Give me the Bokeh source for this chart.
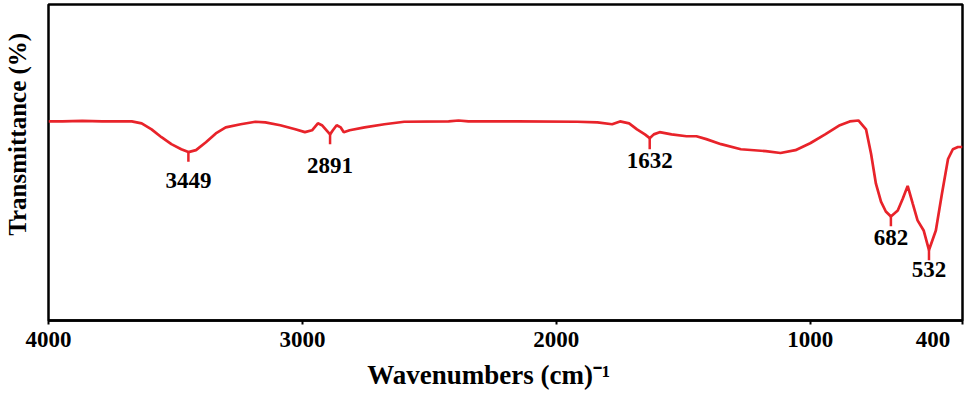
from bokeh.plotting import figure
from bokeh.models import Range1d, FixedTicker
from bokeh.embed import file_html
from bokeh.resources import INLINE
from bokeh.core.properties import value

# ---- data ----
wavenumber = [4000, 3945, 3867, 3789, 3672, 3633, 3594, 3555, 3516, 3477, 3449,
              3419, 3380, 3341, 3302, 3243, 3185, 3146, 3087, 3028, 2990, 2962,
              2939, 2923, 2891, 2880, 2865, 2849, 2837, 2814, 2755, 2677, 2599,
              2424, 2385, 2346, 2151, 1917, 1838, 1780, 1749, 1713, 1682, 1651,
              1632, 1616, 1593, 1546, 1487, 1448, 1409, 1351, 1273, 1175, 1117,
              1058, 1000, 941, 883, 844, 810, 780, 760, 741, 721, 702, 682, 655,
              635, 616, 596, 577, 553, 532, 505, 481, 457, 438, 418, 400]
transmittance = [63.0, 63.0, 63.2, 63.0, 63.0, 62.4, 60.5, 58.0, 55.8, 54.2, 53.3,
                 53.9, 56.4, 59.2, 61.1, 62.1, 62.9, 62.7, 61.8, 60.5, 59.6, 60.2,
                 62.4, 61.8, 58.9, 60.2, 61.8, 61.1, 59.6, 60.2, 61.1, 62.1, 62.9,
                 63.0, 63.3, 63.0, 63.0, 62.9, 62.7, 62.1, 63.0, 62.4, 60.5, 58.9,
                 57.7, 58.9, 59.6, 58.9, 58.3, 58.3, 57.4, 55.8, 54.2, 53.6, 53.0,
                 53.9, 56.1, 58.9, 61.8, 63.0, 63.3, 60.5, 52.7, 43.3, 37.6, 34.5,
                 32.9, 34.8, 38.6, 42.6, 37.0, 31.7, 28.5, 22.3, 28.5, 40.1, 51.1,
                 54.2, 54.9, 54.9]

peak_wn = [3449, 2891, 1632, 682, 532]
peak_t = [53.3, 58.9, 57.7, 32.9, 22.3]
peak_tick_end = [50.2, 55.8, 54.2, 29.8, 19.1]
peak_label_t = [44.4, 49.2, 50.6, 26.2, 16.1]
peak_labels = ["3449", "2891", "1632", "682", "532"]

x_ticks = [4000, 3000, 2000, 1000, 400]
x_tick_labels = ["4000", "3000", "2000", "1000", "400"]
x_title = "Wavenumbers (cm)\u207b\u00b9"
y_title = "Transmittance  (%)"

RED = "#e8232a"
FONT = "Liberation Serif"
NBSP = "\u00a0"

p = figure(width=967, height=392, output_backend="svg", toolbar_location=None,
           x_range=Range1d(4000, 400), y_range=Range1d(0, 100),
           min_border_left=46, min_border_right=5, min_border_top=4,
           min_border_bottom=69)
p.background_fill_color = "white"
p.border_fill_color = "white"
p.outline_line_color = "black"
p.outline_line_width = 2.5
p.xgrid.visible = False
p.ygrid.visible = False

p.line(wavenumber, transmittance, line_color=RED, line_width=2.7)
p.segment(x0=peak_wn, y0=peak_t, x1=peak_wn, y1=peak_tick_end,
          line_color=RED, line_width=2.5)
p.text(x=peak_wn, y=peak_label_t, text=peak_labels,
       text_font=value(FONT), text_font_style="bold", text_font_size="23px",
       text_align="center", text_baseline="middle", text_color="black")

# x axis
xa = p.xaxis[0]
xa.ticker = FixedTicker(ticks=x_ticks)
overrides = {t: lab for t, lab in zip(x_ticks, x_tick_labels)}
# the last label sits left of the frame corner, as in the reference
overrides[x_ticks[-1]] = x_tick_labels[-1] + NBSP * 3
xa.major_label_overrides = overrides
xa.major_label_text_font = FONT
xa.major_label_text_font_style = "bold"
xa.major_label_text_font_size = "23px"
xa.major_label_text_color = "black"
xa.major_label_standoff = 2
xa.axis_line_color = "black"
xa.axis_line_width = 2.5
xa.major_tick_line_color = "black"
xa.major_tick_line_width = 2
xa.major_tick_out = 4
xa.major_tick_in = 0
xa.minor_tick_line_color = None
xa.axis_label = x_title + NBSP * 5
xa.axis_label_text_font = FONT
xa.axis_label_text_font_style = "bold"
xa.axis_label_text_font_size = "27px"
xa.axis_label_text_color = "black"
xa.axis_label_standoff = 5

# y axis: no ticks
ya = p.yaxis[0]
ya.ticker = FixedTicker(ticks=[])
ya.major_label_text_font_size = "0px"
ya.axis_line_color = None
ya.major_tick_line_color = None
ya.minor_tick_line_color = None
ya.axis_label = NBSP * 10 + y_title
ya.axis_label_text_font = FONT
ya.axis_label_text_font_style = "bold"
ya.axis_label_text_font_size = "25px"
ya.axis_label_text_color = "black"
ya.axis_label_standoff = 18

open("out.html", "w").write(file_html(p, INLINE))
